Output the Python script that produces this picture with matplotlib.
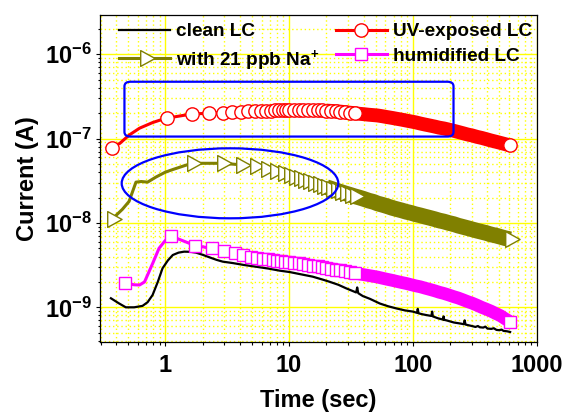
import numpy as np
import matplotlib
matplotlib.use("Agg")
import matplotlib.pyplot as plt
from matplotlib import ticker
from matplotlib.lines import Line2D
from matplotlib.patches import Ellipse, FancyBboxPatch
from matplotlib.path import Path

plt.rcParams['font.family'] = ['Liberation Sans', 'DejaVu Sans']
plt.rcParams['font.weight'] = 'bold'
plt.rcParams['mathtext.fontset'] = 'custom'
plt.rcParams['mathtext.rm'] = 'Liberation Sans:bold'
plt.rcParams['mathtext.bf'] = 'Liberation Sans:bold'
plt.rcParams['mathtext.default'] = 'bf'

# long-time sampling shared by the three marker curves (sec)
t_tail = [10, 11, 12, 13, 14.2, 15.5, 17, 18.5, 20, 22, 24, 26, 28.5, 31, 34,
          37, 40, 44, 48, 52, 57, 62, 68, 74, 81, 88, 96, 105, 115, 125, 137,
          150, 163, 178, 195, 213, 232, 253, 276, 301, 329, 359, 392, 428, 467,
          510, 557, 610]

# UV-exposed LC
t_uv_head = [0.37, 0.43, 0.51, 0.62, 0.79, 0.92, 1.03, 1.64, 2.27, 2.91, 3.46,
             4.1, 4.7, 5.3, 5.9, 6.5, 7.1, 7.7, 8.3, 8.9, 9.5]
i_uv_head = [7.8e-8, 8.8e-8, 1.1e-7, 1.33e-7, 1.55e-7, 1.67e-7, 1.75e-7, 1.96e-7,
             2.0e-7, 2.03e-7, 2.06e-7, 2.08e-7, 2.1e-7, 2.12e-7, 2.13e-7, 2.14e-7,
             2.15e-7, 2.16e-7, 2.17e-7, 2.18e-7, 2.19e-7]
i_uv_tail = [2.19e-7, 2.2e-7, 2.2e-7, 2.2e-7, 2.2e-7, 2.19e-7, 2.18e-7, 2.16e-7,
             2.15e-7, 2.13e-7, 2.11e-7, 2.09e-7, 2.06e-7, 2.03e-7, 2.0e-7, 1.97e-7,
             1.95e-7, 1.92e-7, 1.9e-7, 1.88e-7, 1.84e-7, 1.8e-7, 1.76e-7, 1.72e-7,
             1.68e-7, 1.64e-7, 1.6e-7, 1.56e-7, 1.51e-7, 1.47e-7, 1.43e-7, 1.39e-7,
             1.35e-7, 1.32e-7, 1.28e-7, 1.24e-7, 1.2e-7, 1.16e-7, 1.12e-7, 1.09e-7,
             1.05e-7, 1.02e-7, 9.85e-8, 9.5e-8, 9.2e-8, 8.9e-8, 8.6e-8, 8.3e-8]

# with 21 ppb Na+
t_na_head = [0.37, 0.45, 0.51, 0.58, 0.64, 0.72, 0.84, 1.0, 1.15, 1.38, 1.64,
             2.86, 4.08, 5.3, 6.5, 7.7, 8.9]
i_na_head = [1.1e-8, 1.45e-8, 1.8e-8, 3.05e-8, 3.1e-8, 3.05e-8, 3.5e-8, 4.0e-8,
             4.3e-8, 4.7e-8, 5.1e-8, 5.1e-8, 4.9e-8, 4.75e-8, 4.4e-8, 4.1e-8, 3.9e-8]
i_na_tail = [3.7e-8, 3.55e-8, 3.4e-8, 3.25e-8, 3.13e-8, 3.0e-8, 2.88e-8, 2.75e-8,
             2.66e-8, 2.54e-8, 2.43e-8, 2.34e-8, 2.24e-8, 2.16e-8, 2.07e-8, 2.0e-8,
             1.93e-8, 1.84e-8, 1.78e-8, 1.7e-8, 1.64e-8, 1.58e-8, 1.51e-8, 1.46e-8,
             1.41e-8, 1.36e-8, 1.32e-8, 1.27e-8, 1.23e-8, 1.19e-8, 1.15e-8, 1.11e-8,
             1.07e-8, 1.04e-8, 1.0e-8, 9.7e-9, 9.3e-9, 9.0e-9, 8.7e-9, 8.4e-9,
             8.1e-9, 7.85e-9, 7.6e-9, 7.3e-9, 7.1e-9, 6.85e-9, 6.6e-9, 6.4e-9]

# humidified LC
t_hum_head = [0.477, 0.56, 0.62, 0.68, 0.79, 0.89, 1.0, 1.11, 1.74, 2.37, 3.0,
              3.63, 4.26, 4.89, 5.52, 6.15, 6.78, 7.41, 8.04, 8.67, 9.3]
i_hum_head = [1.96e-9, 1.85e-9, 1.84e-9, 2.0e-9, 3.3e-9, 5.0e-9, 6.2e-9, 7.0e-9,
              5.4e-9, 5.0e-9, 4.6e-9, 4.35e-9, 4.15e-9, 4.0e-9, 3.88e-9, 3.78e-9,
              3.7e-9, 3.63e-9, 3.57e-9, 3.52e-9, 3.48e-9]
i_hum_tail = [3.47e-9, 3.39e-9, 3.31e-9, 3.25e-9, 3.18e-9, 3.12e-9, 3.05e-9, 2.99e-9,
              2.93e-9, 2.86e-9, 2.8e-9, 2.74e-9, 2.68e-9, 2.62e-9, 2.55e-9, 2.49e-9,
              2.44e-9, 2.38e-9, 2.33e-9, 2.28e-9, 2.21e-9, 2.15e-9, 2.09e-9, 2.03e-9,
              1.97e-9, 1.92e-9, 1.86e-9, 1.8e-9, 1.75e-9, 1.69e-9, 1.63e-9, 1.57e-9,
              1.51e-9, 1.46e-9, 1.4e-9, 1.34e-9, 1.29e-9, 1.23e-9, 1.17e-9, 1.12e-9,
              1.06e-9, 1.0e-9, 9.5e-10, 9.0e-10, 8.45e-10, 7.95e-10, 7.3e-10, 6.75e-10]

# clean LC (plain line, noisy at long times)
t_clean = [0.364, 0.42, 0.48, 0.56, 0.655, 0.72, 0.79, 0.87, 0.95, 1.05, 1.15,
           1.28, 1.42, 1.6, 1.77, 2.0, 2.27, 2.6, 2.91, 3.5, 4.3, 5.4, 6.8, 8.4,
           10.1, 12.5, 15.5, 18.7, 21.2, 25, 28.9, 33, 34.8, 35.5, 36.2, 39.4, 45,
           54, 63, 73.6, 86, 100, 108, 109.5, 111, 118, 128, 141, 143, 145, 160,
           175, 177, 179, 187, 200, 215, 230, 245, 258, 262, 266, 285, 300, 320,
           335, 347, 370, 385, 400, 430, 450, 473, 500, 520, 540, 575, 610]
i_clean = [1.28e-9, 1.12e-9, 1.0e-9, 1.0e-9, 1.04e-9, 1.15e-9, 1.4e-9, 2.0e-9,
           2.9e-9, 3.6e-9, 4.17e-9, 4.45e-9, 4.57e-9, 4.55e-9, 4.45e-9, 4.2e-9,
           3.92e-9, 3.65e-9, 3.48e-9, 3.35e-9, 3.18e-9, 3.03e-9, 2.88e-9, 2.72e-9,
           2.62e-9, 2.46e-9, 2.31e-9, 2.13e-9, 2.01e-9, 1.85e-9, 1.68e-9, 1.55e-9,
           1.5e-9, 1.72e-9, 1.47e-9, 1.36e-9, 1.26e-9, 1.11e-9, 1.03e-9, 9.7e-10,
           9.2e-10, 8.9e-10, 8.6e-10, 9.6e-10, 8.5e-10, 8.3e-10, 8.1e-10, 7.9e-10,
           8.9e-10, 7.8e-10, 7.4e-10, 7.15e-10, 7.8e-10, 7.1e-10, 7.0e-10, 6.8e-10,
           6.6e-10, 6.5e-10, 6.4e-10, 6.3e-10, 7.0e-10, 6.25e-10, 6.1e-10, 6.0e-10,
           5.85e-10, 6.0e-10, 5.8e-10, 5.75e-10, 5.9e-10, 5.6e-10, 5.55e-10, 5.65e-10,
           5.4e-10, 5.35e-10, 5.45e-10, 5.25e-10, 5.2e-10, 5.1e-10]

labels = ['clean LC', 'with 21 ppb Na$^{+}$', 'UV-exposed LC', 'humidified LC']

# triangle pointing right with its centroid on the data point
tri = Path([(-1/3, 0.55), (2/3, 0), (-1/3, -0.55), (0, 0)],
           [Path.MOVETO, Path.LINETO, Path.LINETO, Path.CLOSEPOLY])

fig = plt.figure(figsize=(5.63, 4.13), dpi=100)
ax = fig.add_axes([0.1776, 0.1726, 0.7757, 0.7910])

ax.plot(t_clean, i_clean, color='black', lw=1.6, zorder=2.5)

series = [
    (t_na_head, i_na_head, i_na_tail, '#808000', tri, 13.8, 11.3, 10),
    (t_uv_head, i_uv_head, i_uv_tail, '#ff0000', 'o', 9.6, 10, 6),
    (t_hum_head, i_hum_head, i_hum_tail, '#ff00ff', 's', 8.6, 9.2, 7),
]
handles = [Line2D([], [], color='black', lw=1.6)]
for th, ih, it, col, mk, ms, band_lw, m0 in series:
    t = np.array(th + t_tail)
    cur = np.array(ih + it)
    n = len(t)
    band = t >= 20
    ax.plot(t[band], cur[band], color=col, lw=band_lw, solid_capstyle='butt',
            zorder=2)
    mark = [0] + [k for k in range(m0, n) if t[k] <= 34] + [n - 1]
    ax.plot(t, cur, color=col, lw=2.2, marker=mk, ms=ms, mfc='white', mec=col,
            mew=1.0, markevery=mark, zorder=3)
    handles.append(Line2D([], [], color=col, lw=2.2, marker=mk, ms=ms,
                          mfc='white', mec=col, mew=1.0))

ax.set_xscale('log')
ax.set_yscale('log')
ax.set_xlim(0.297, 1000)
ax.set_ylim(3.91e-10, 2.92e-6)

ax.xaxis.set_major_locator(ticker.LogLocator(base=10, numticks=10))
ax.xaxis.set_minor_locator(ticker.LogLocator(base=10, subs=np.arange(2, 10), numticks=20))
ax.xaxis.set_major_formatter(ticker.FuncFormatter(lambda v, p: f'{v:g}'))
ax.xaxis.set_minor_formatter(ticker.NullFormatter())
ax.yaxis.set_major_locator(ticker.LogLocator(base=10, numticks=10))
ax.yaxis.set_minor_locator(ticker.LogLocator(base=10, subs=np.arange(2, 10), numticks=20))
ax.yaxis.set_minor_formatter(ticker.NullFormatter())

ax.grid(which='major', color='#ffff00', lw=1.0, ls='-', zorder=0)
ax.grid(which='minor', color='#ffff00', lw=1.0, ls=(0, (1, 2)), zorder=0)
ax.set_axisbelow(True)

ax.tick_params(which='major', direction='out', length=3, width=0.8, labelsize=17)
ax.tick_params(axis='x', which='major', pad=6)
ax.tick_params(axis='y', which='major', pad=3)
ax.tick_params(which='minor', direction='out', length=1.8, width=0.8)
for s in ax.spines.values():
    s.set_linewidth(0.9)

ax.set_xlabel('Time (sec)', fontsize=17, fontweight='bold')
ax.set_ylabel('Current (A)', fontsize=17, fontweight='bold')
ax.xaxis.set_label_coords(0.5, -0.146)
ax.yaxis.set_label_coords(-0.14, 0.5)

box = FancyBboxPatch((0.056, 0.628), 0.7535, 0.1678,
                     boxstyle='round,pad=0,rounding_size=0.014',
                     transform=ax.transAxes, fill=False, ec='#0000ff', lw=1.6, zorder=5)
ax.add_patch(box)
ell = Ellipse((0.2977, 0.4849), 0.496, 0.2143, transform=ax.transAxes,
              fill=False, ec='#0000ff', lw=1.6, zorder=5)
ax.add_patch(ell)

ax.legend(handles, labels, ncol=2, loc='upper left', bbox_to_anchor=(0.0435, 0.976),
          frameon=False, fontsize=13.7, handlelength=2.7, handletextpad=0.3,
          columnspacing=0.85, labelspacing=0.4, borderpad=0, borderaxespad=0)

fig.savefig('out.png', dpi=100)
